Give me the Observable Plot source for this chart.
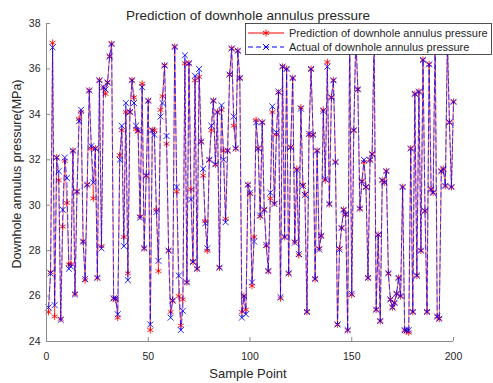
<!DOCTYPE html>
<html><head><meta charset="utf-8">
<script src="https://cdn.jsdelivr.net/npm/d3@7"></script>
<script src="https://cdn.jsdelivr.net/npm/@observablehq/plot@0.6"></script>
<style>
html,body{margin:0;padding:0;background:#fff;}
#chart{width:493px;height:383px;}
</style></head><body><div id="chart"></div>
<script>
const chartTitle = "Prediction of downhole annulus pressure";
const xLabel = "Sample Point";
const yLabel = "Downhole annulus pressure(MPa)";
const seriesNames = ["Prediction of downhole annulus pressure", "Actual of downhole annulus pressure"];
const xTicks = [0, 50, 100, 150, 200];
const yTicks = [24, 26, 28, 30, 32, 34, 36, 38];

const predicted = [
25.3,27.05,37.15,25.1,32.1,31.1,25.0,29.06,31.95,30.1,
27.4,27.4,32.4,26.1,30.6,33.8,34.1,28.4,26.7,30.9,
35.05,32.5,30.3,32.5,26.8,35.5,28.2,35.15,34.9,35.4,
36.55,37.1,25.9,25.85,25.05,32.2,33.3,28.6,34.1,27.0,
34.1,35.5,34.75,33.35,33.25,29.5,35.35,28.1,31.3,34.6,
24.5,33.3,33.3,29.8,27.1,34.2,34.8,36.15,32.7,28.0,
25.3,25.8,36.97,30.6,26.0,24.7,25.85,36.25,26.6,36.25,
30.7,27.5,35.5,27.2,35.65,32.8,31.3,29.3,28.0,32.0,
33.3,34.6,31.8,34.1,27.25,34.2,32.4,29.4,32.4,35.75,
36.9,33.5,32.5,36.8,35.6,25.3,26.0,25.4,30.9,30.5,
26.45,28.6,33.75,32.5,29.5,33.65,29.8,28.2,27.1,30.3,
34.1,30.1,33.1,34.95,25.9,36.1,28.6,36.0,27.0,32.55,
35.6,28.4,31.6,27.8,34.3,30.9,30.5,25.3,33.1,36.0,
33.1,26.75,32.4,28.1,28.65,34.2,31.1,36.3,30.05,34.75,
35.5,31.9,24.75,28.1,29.0,29.8,29.6,24.5,37.6,26.05,
33.3,37.4,35.1,29.85,31.05,31.9,30.8,26.8,32.0,32.25,
37.4,25.4,28.7,24.9,31.1,31.0,31.5,27.0,25.85,25.5,
25.7,26.1,26.8,26.0,30.8,24.5,24.45,24.4,32.5,25.3,
34.9,26.9,35.0,28.0,36.4,29.75,25.3,36.2,30.7,30.55,
37.5,25.1,25.0,31.5,31.6,30.85,37.3,33.65,30.8,34.55
];
const actual = [
25.5,27.0,36.95,25.6,32.1,31.5,24.95,29.8,32.1,31.2,
27.2,27.3,32.4,26.07,30.6,33.7,34.2,28.4,26.75,30.9,
35.05,32.6,31.0,32.5,26.8,35.5,28.1,35.2,35.1,35.4,
36.55,37.1,25.9,25.9,25.2,32.0,33.5,28.2,34.5,26.7,
34.1,35.5,34.5,33.5,33.3,29.45,35.2,28.1,31.3,34.6,
24.75,33.3,33.1,29.7,27.55,33.9,34.5,36.15,33.05,28.0,
25.05,25.8,36.97,30.8,26.9,24.5,25.35,36.6,26.6,36.25,
30.25,27.5,35.7,27.2,36.0,32.8,31.6,29.2,28.1,32.0,
33.5,34.6,31.8,34.1,27.25,34.4,32.0,29.25,32.4,35.75,
36.9,33.9,32.5,36.8,35.6,25.05,26.0,25.2,30.9,30.55,
26.6,28.4,33.65,32.5,29.55,33.65,29.8,28.25,27.1,30.55,
34.35,30.05,33.2,35.0,25.95,36.1,28.6,36.0,27.0,32.55,
35.6,28.35,31.55,27.85,34.25,30.85,30.45,25.3,33.15,36.0,
33.1,26.75,32.4,28.05,28.65,34.15,31.15,36.1,30.05,34.75,
35.5,31.9,24.75,28.05,29.0,29.8,29.6,24.5,37.6,26.1,
33.3,37.4,35.1,29.85,31.05,32.0,30.8,26.8,32.0,32.25,
37.4,25.4,28.7,24.9,31.1,31.0,31.5,27.0,25.85,25.5,
25.7,26.1,26.8,26.0,30.8,24.5,24.5,24.5,32.5,25.3,
34.9,26.9,35.0,28.0,36.4,29.75,25.3,36.2,30.7,30.55,
37.5,25.1,25.0,31.5,31.6,30.85,37.3,33.65,30.8,34.55
];
const samples = predicted.map((_, i) => i + 1);
const rows = samples.map((s, i) => ({sample: s, pred: predicted[i], act: actual[i]}));

const font = "'Liberation Sans', Arial, Helvetica, sans-serif";
const axisGray = "#8c8c8c";
const textGray = "#262626";

const chart = Plot.plot({
  width: 493, height: 383,
  marginLeft: 46, marginRight: 40, marginTop: 23, marginBottom: 42,
  style: {fontFamily: font, fontSize: "10.5px", color: textGray, background: "#fff", overflow: "visible"},
  x: {domain: [0, 200], ticks: xTicks},
  y: {domain: [24, 38], ticks: yTicks},
  marks: [
    Plot.line(rows, {x: "sample", y: "pred", stroke: "#ff0000", strokeWidth: 1, strokeOpacity: 0.55}),
    Plot.dot(rows, {x: "sample", y: "pred", symbol: "asterisk", r: 3.2, stroke: "#ff0000", strokeWidth: 1, strokeOpacity: 0.85}),
    Plot.line(rows, {x: "sample", y: "act", stroke: "#0000ff", strokeWidth: 1, strokeDasharray: "5,3", strokeOpacity: 0.7}),
    Plot.dot(rows, {x: "sample", y: "act", symbol: "times", r: 2.8, stroke: "#0000ff", strokeWidth: 1, strokeOpacity: 0.85}),
    Plot.ruleY([24], {stroke: axisGray}),
    Plot.ruleX([0], {stroke: axisGray}),
    Plot.axisX(xTicks, {tickSize: -4, tickPadding: 15, stroke: axisGray, fill: textGray, label: null, fontSize: 10.5}),
    Plot.axisY(yTicks, {tickSize: -4, tickPadding: 10, stroke: axisGray, fill: textGray, label: null, fontSize: 10.5}),
    Plot.text([chartTitle], {text: d => d, frameAnchor: "top", dy: -8, dx: -2, textAnchor: "middle", lineAnchor: "middle", fontSize: 13.5, fill: textGray}),
    Plot.text([xLabel], {text: d => d, frameAnchor: "bottom", dy: 32, dx: -2, textAnchor: "middle", lineAnchor: "middle", fontSize: 13, fill: textGray}),
    Plot.text([yLabel], {text: d => d, frameAnchor: "left", rotate: -90, dx: -30, dy: -8.5, textAnchor: "middle", lineAnchor: "middle", fontSize: 12.5, fill: textGray})
  ]
});
document.getElementById("chart").appendChild(chart);

// Legend (opaque box on top of the data)
const svg = d3.select(chart);
const lg = svg.append("g").attr("font-family", font).attr("font-size", 11).attr("text-anchor", "start");
lg.append("rect").attr("x", 245.5).attr("y", 23.5).attr("width", 246).attr("height", 31)
  .style("fill", "#ffffff").style("stroke", "#262626").style("stroke-width", "0.8px");
const legendItems = [
  {name: seriesNames[0], color: "#ff0000", dash: null, sym: d3.symbolAsterisk, r: 3.2, y: 33},
  {name: seriesNames[1], color: "#0000ff", dash: "5,3", sym: d3.symbolTimes, r: 2.8, y: 47}
];
for (const it of legendItems) {
  lg.append("line").attr("x1", 248).attr("x2", 284).attr("y1", it.y).attr("y2", it.y)
    .attr("stroke", it.color).attr("stroke-width", 1).attr("stroke-dasharray", it.dash);
  lg.append("path").attr("d", d3.symbol(it.sym, Math.PI * it.r * it.r)())
    .attr("transform", `translate(266,${it.y})`).attr("fill", "none").attr("stroke", it.color).attr("stroke-width", 1);
  lg.append("text").attr("x", 289).attr("y", it.y).attr("dy", "0.35em")
    .attr("text-anchor", "start").style("fill", textGray).text(it.name);
}
</script></body></html>
